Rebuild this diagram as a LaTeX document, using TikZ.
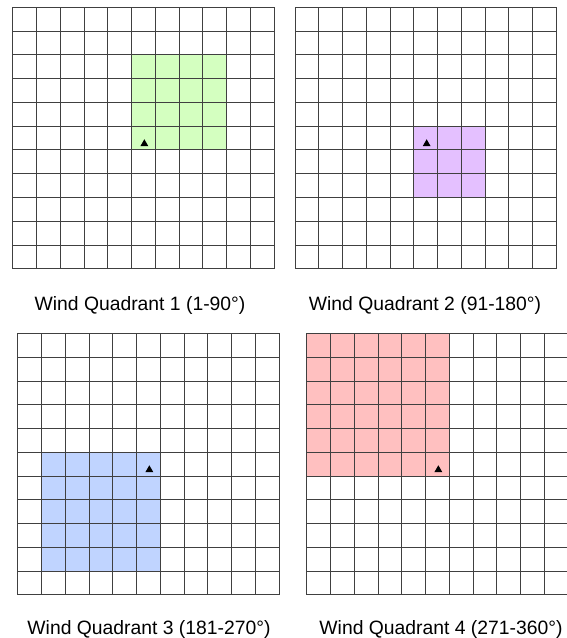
\documentclass[tikz,border=0pt]{standalone}
\usepackage{fontspec}
\setmainfont{Liberation Sans}
\definecolor{qgreen}{RGB}{212,255,192}
\definecolor{qpurple}{RGB}{228,192,255}
\definecolor{qblue}{RGB}{192,212,255}
\definecolor{qred}{RGB}{255,192,192}
\tikzset{
  gridline/.style={black!75, line width=0.6bp},
  windmark/.style={fill=black},
  quadlabel/.style={anchor=base, font=\fontsize{19.4}{23}\selectfont}
}
\begin{document}
\begin{tikzpicture}[x=1bp,y=-1bp]
    \useasboundingbox (0,0) rectangle (567,638);
    \clip (0,0) rectangle (567,638);
    % left/top of grid, fill, first col/row, cols/rows of fill, label
    \foreach \gx/\gy/\fc/\ci/\ri/\nc/\nr/\lx/\ly/\nm/\txt in {
        12.7/7.3/qgreen/5/2/4/4/140/310/q1/{Wind Quadrant 1 (1-90°)},
        295/7.3/qpurple/5/5/3/3/425/310/q2/{Wind Quadrant 2 (91-180°)},
        17.7/333.3/qblue/1/5/5/5/149/634.5/q3/{Wind Quadrant 3 (181-270°)},
        306.7/333.3/qred/0/0/6/6/441/634.5/q4/{Wind Quadrant 4 (271-360°)}}
    {
      \fill[\fc] (\gx+\ci*23.75,\gy+\ri*23.75) rectangle ++(\nc*23.75,\nr*23.75);
      \foreach \k in {0,...,11} {
        \draw[gridline] (\gx+\k*23.75,\gy) -- ++(0,261.25);
        \draw[gridline] (\gx,\gy+\k*23.75) -- ++(261.25,0);
      }
      \fill[windmark] (\gx+5*23.75+9,\gy+5*23.75+20) -- ++(7.8,0) -- ++(-3.9,-6.8) -- cycle;
      \node[quadlabel] (\nm) at (\lx,\ly) {\txt};
    }
\end{tikzpicture}
\end{document}
